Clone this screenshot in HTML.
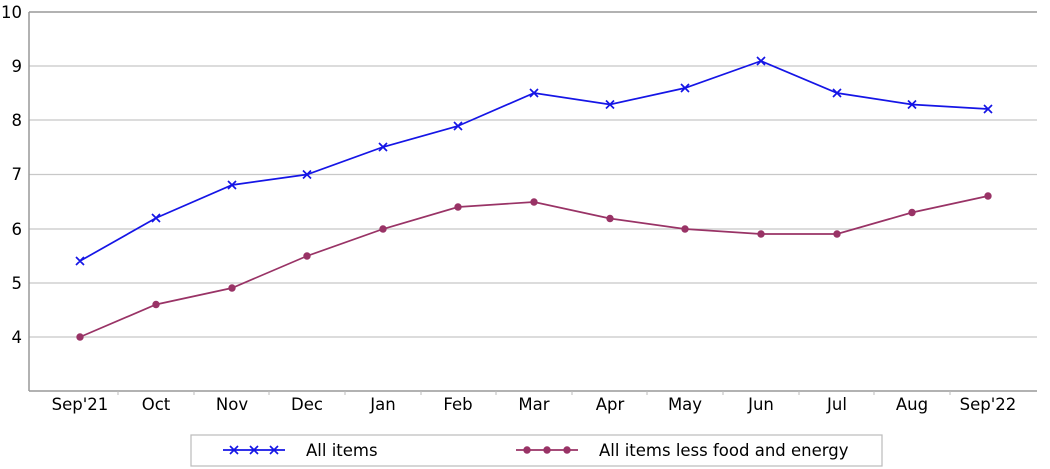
<!DOCTYPE html><html><head><style>body{margin:0;background:#fff}svg{display:block;font-family:"DejaVu Sans",sans-serif}</style></head><body>
<svg width="1050" height="469" viewBox="0 0 1050 469">
<g stroke="#c8c8c8" stroke-width="1.3">
<line x1="29" x2="1037" y1="66" y2="66"/><line x1="29" x2="1037" y1="120" y2="120"/><line x1="29" x2="1037" y1="174.5" y2="174.5"/><line x1="29" x2="1037" y1="229" y2="229"/><line x1="29" x2="1037" y1="283" y2="283"/><line x1="29" x2="1037" y1="337" y2="337"/>
</g>
<g stroke="#999" stroke-width="1.5" fill="none"><line x1="29" x2="1037" y1="12" y2="12"/><line x1="29" x2="29" y1="12" y2="391"/><line x1="29" x2="1037" y1="391" y2="391"/>
<path d="M118,391v4M194,391v4M269,391v4M345,391v4M421,391v4M496,391v4M572,391v4M647,391v4M723,391v4M799,391v4M874,391v4M950,391v4" stroke="#bbb" stroke-width="1"/></g>
<g font-size="16.5" text-anchor="end" fill="#000"><text x="22" y="18">10</text><text x="22" y="72">9</text><text x="22" y="126">8</text><text x="22" y="180">7</text><text x="22" y="235">6</text><text x="22" y="289">5</text><text x="22" y="343">4</text></g>
<g font-size="16.5" text-anchor="middle"><text x="80" y="410">Sep'21</text><text x="156" y="410">Oct</text><text x="232" y="410">Nov</text><text x="307" y="410">Dec</text><text x="383" y="410">Jan</text><text x="458" y="410">Feb</text><text x="534" y="410">Mar</text><text x="610" y="410">Apr</text><text x="685" y="410">May</text><text x="761" y="410">Jun</text><text x="837" y="410">Jul</text><text x="912" y="410">Aug</text><text x="988" y="410">Sep'22</text></g>
<polyline fill="none" stroke="#1515e6" stroke-width="1.7" points="80,261 156,218 232,185 307,174.5 383,147 458,126 534,93 610,104.5 685,88 761,61 837,93 912,104.5 988,109"/>
<g stroke="#1515e6" stroke-width="1.7">
<path d="M76,257l8,8m0-8l-8,8M152,214l8,8m0-8l-8,8M228,181l8,8m0-8l-8,8M303,170.5l8,8m0-8l-8,8M379,143l8,8m0-8l-8,8M454,122l8,8m0-8l-8,8M530,89l8,8m0-8l-8,8M606,100.5l8,8m0-8l-8,8M681,84l8,8m0-8l-8,8M757,57l8,8m0-8l-8,8M833,89l8,8m0-8l-8,8M908,100.5l8,8m0-8l-8,8M984,105l8,8m0-8l-8,8"/>
</g>
<polyline fill="none" stroke="#993366" stroke-width="1.7" points="80,337 156,304.5 232,288 307,256 383,229 458,207 534,202 610,218.5 685,229 761,234 837,234 912,212.5 988,196"/>
<g fill="#993366"><circle cx="80" cy="337" r="3.7"/><circle cx="156" cy="304.5" r="3.7"/><circle cx="232" cy="288" r="3.7"/><circle cx="307" cy="256" r="3.7"/><circle cx="383" cy="229" r="3.7"/><circle cx="458" cy="207" r="3.7"/><circle cx="534" cy="202" r="3.7"/><circle cx="610" cy="218.5" r="3.7"/><circle cx="685" cy="229" r="3.7"/><circle cx="761" cy="234" r="3.7"/><circle cx="837" cy="234" r="3.7"/><circle cx="912" cy="212.5" r="3.7"/><circle cx="988" cy="196" r="3.7"/></g>
<rect x="191" y="435" width="691" height="31" fill="#fff" stroke="#bbb" stroke-width="1.2"/>
<line x1="223" x2="285" y1="450" y2="450" stroke="#1515e6" stroke-width="1.7"/>
<path d="M230,446l8,8m0-8l-8,8M250,446l8,8m0-8l-8,8M270,446l8,8m0-8l-8,8" stroke="#1515e6" stroke-width="1.7"/>
<text x="306" y="456" font-size="16.5">All items</text>
<line x1="516" x2="578" y1="450" y2="450" stroke="#993366" stroke-width="1.7"/>
<g fill="#993366"><circle cx="527" cy="450" r="3.7"/><circle cx="547" cy="450" r="3.7"/><circle cx="567" cy="450" r="3.7"/></g>
<text x="599" y="456" font-size="16.5">All items less food and energy</text>
</svg></body></html>
